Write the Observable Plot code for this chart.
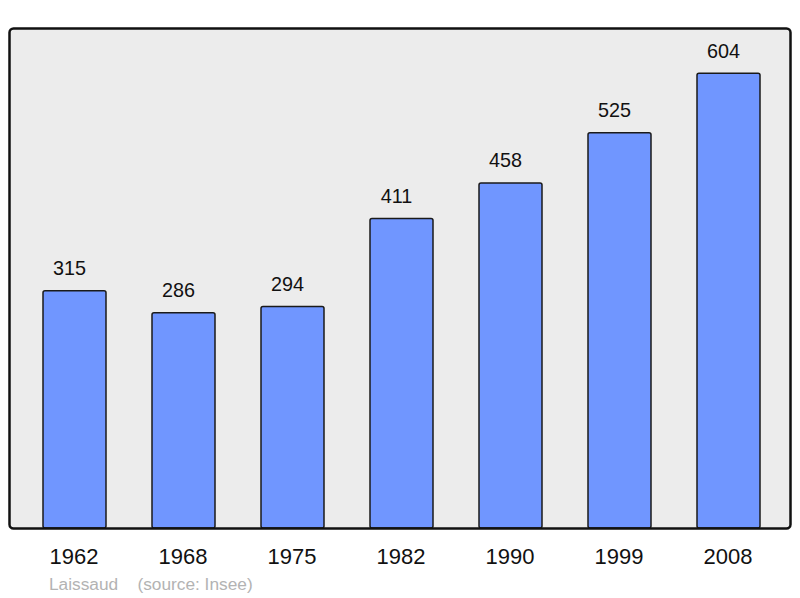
<!DOCTYPE html>
<html>
<head>
<meta charset="utf-8">
<script src="https://cdn.jsdelivr.net/npm/d3@7"></script>
<script src="https://cdn.jsdelivr.net/npm/@observablehq/plot@0.6"></script>
<style>
  html, body { margin: 0; padding: 0; background: #fff; }
  #wrap { position: relative; width: 800px; height: 598px; }
  #caption { position: absolute; left: 49px; top: 576px; font-family: "Liberation Sans", Arial, sans-serif; font-size: 17.3px; line-height: 17px; color: #b3b3b3; white-space: pre; }
</style>
</head>
<body>
<div id="wrap"><div id="caption">Laissaud    (source: Insee)</div></div>
<script>
const years = ["1962", "1968", "1975", "1982", "1990", "1999", "2008"];
const population = [315, 286, 294, 411, 458, 525, 604];
const data = years.map((y, i) => ({year: y, pop: population[i]}));

const plot = Plot.plot({
  width: 800,
  height: 598,
  marginTop: 28,
  marginBottom: 70,
  marginLeft: 9,
  marginRight: 10,
  style: {fontFamily: '"Liberation Sans", Arial, sans-serif', background: "transparent", color: "#000"},
  x: {domain: years, range: [41.5, 761.5], paddingInner: 0.424, paddingOuter: 0, label: null},
  y: {domain: [0, 664], axis: null},
  marks: [
    Plot.frame({fill: "#ececec", rx: 4}),
    Plot.barY(data, {x: "year", y: "pop", fill: "#7096ff", stroke: "#1a1a1a", strokeWidth: 1.5, rx: 2}),
    Plot.text(data, {x: "year", y: "pop", text: d => String(d.pop), dy: -22.5, dx: -5.5, fontSize: 19.8, fill: "#111"}),
    Plot.frame({stroke: "#111", strokeWidth: 2.5, rx: 4}),
    Plot.axisX({tickSize: 0, tickPadding: 20, dx: -1, fontSize: 22, label: null, fill: "#111"})
  ]
});
document.getElementById("wrap").prepend(plot);
plot.style.position = "absolute";
plot.style.left = "0";
plot.style.top = "0";
</script>
</body>
</html>
